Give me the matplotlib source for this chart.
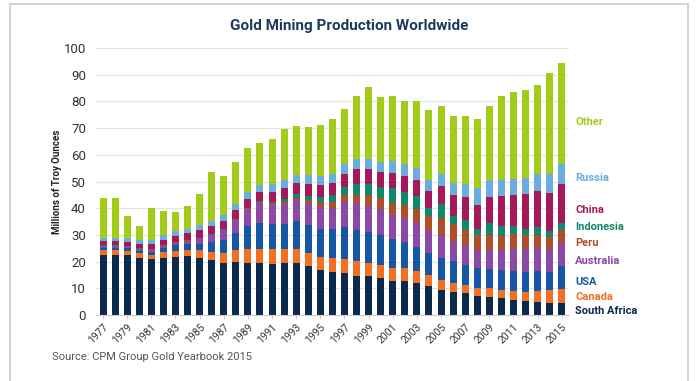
import numpy as np
import matplotlib.pyplot as plt
from matplotlib.patches import Rectangle

plt.rcParams['font.family'] = ['Roboto', 'DejaVu Sans']

# Gold mine output by country, millions of troy ounces
years = list(range(1977, 2016))
south_africa = [22.5, 22.5, 22.5, 21.5, 21.0, 21.5, 21.8, 22.0, 21.5, 20.5,
                19.5, 20.0, 19.5, 19.5, 19.0, 19.5, 19.5, 18.5, 16.8, 16.0,
                15.8, 14.8, 14.5, 13.8, 12.6, 12.6, 12.0, 10.8, 9.5, 8.7,
                8.2, 7.0, 6.8, 6.5, 5.8, 5.3, 5.0, 4.5, 4.5]
canada = [1.7, 1.7, 1.6, 1.6, 1.6, 2.0, 2.3, 2.5, 2.8, 3.3,
          3.8, 4.2, 5.3, 5.4, 5.7, 5.2, 5.3, 4.7, 4.8, 5.3,
          5.3, 5.3, 5.0, 5.0, 5.2, 4.9, 4.5, 4.1, 3.8, 3.3,
          3.0, 3.0, 3.2, 2.9, 3.3, 3.4, 4.0, 4.8, 5.4]
usa = [1.0, 1.0, 1.0, 1.0, 1.2, 1.5, 2.0, 2.1, 2.5, 3.7,
       5.0, 6.5, 8.5, 9.4, 9.4, 9.4, 10.5, 10.6, 10.7, 10.8,
       11.8, 11.7, 11.5, 11.3, 10.8, 9.9, 8.9, 8.4, 8.2, 8.1,
       7.6, 7.5, 7.3, 7.4, 7.5, 7.5, 7.6, 6.9, 8.3]
australia = [0.6, 0.6, 0.6, 0.6, 0.6, 0.9, 1.0, 1.3, 1.9, 2.4,
             3.5, 5.0, 6.5, 7.8, 7.5, 7.5, 7.9, 8.2, 8.1, 8.1,
             9.5, 10.0, 9.8, 9.5, 9.0, 8.8, 9.0, 8.3, 8.4, 7.6,
             7.5, 6.9, 7.0, 7.5, 8.3, 8.4, 8.5, 8.6, 8.8]
peru = [0.2, 0.2, 0.2, 0.2, 0.2, 0.2, 0.2, 0.2, 0.2, 0.2,
        0.2, 0.2, 0.2, 0.3, 0.3, 0.6, 0.8, 1.0, 1.8, 2.1,
        2.5, 3.0, 4.2, 4.3, 4.4, 5.0, 5.5, 5.6, 6.6, 6.5,
        5.5, 5.7, 5.8, 5.3, 5.3, 5.2, 5.0, 4.5, 4.7]
indonesia = [0.1, 0.1, 0.1, 0.1, 0.1, 0.1, 0.1, 0.1, 0.1, 0.1,
             0.1, 0.1, 0.1, 0.3, 0.5, 1.2, 1.4, 1.6, 2.1, 2.6,
             2.9, 4.3, 4.1, 4.0, 5.5, 4.9, 4.6, 3.0, 5.0, 3.0,
             3.8, 2.1, 4.2, 3.9, 3.1, 2.6, 2.7, 2.0, 2.9]
china = [1.5, 1.5, 1.5, 1.7, 1.8, 2.0, 2.3, 2.5, 2.8, 3.2,
         3.2, 3.5, 3.5, 3.4, 3.5, 4.0, 4.1, 4.3, 4.4, 4.6,
         5.2, 5.5, 5.5, 5.5, 5.6, 6.0, 6.2, 6.2, 7.0, 7.6,
         8.8, 9.2, 10.0, 11.0, 11.8, 12.9, 13.6, 14.5, 14.6]
russia = [1.4, 1.4, 1.5, 1.5, 1.6, 1.6, 1.6, 1.7, 1.8, 2.0,
          2.0, 2.2, 2.5, 2.6, 3.0, 3.2, 3.0, 3.5, 3.3, 3.3,
          3.7, 4.0, 4.0, 3.9, 4.5, 4.5, 4.4, 4.0, 4.3, 4.5,
          4.5, 6.0, 6.2, 6.0, 5.9, 6.1, 6.5, 7.0, 7.5]
other = [15.0, 14.8, 8.0, 5.3, 12.1, 9.2, 7.4, 8.3, 11.9, 18.1,
         14.7, 15.8, 16.4, 15.8, 17.1, 18.9, 18.2, 17.9, 19.3, 20.7,
         20.3, 23.4, 26.9, 24.2, 24.4, 23.7, 25.2, 26.3, 25.5, 25.4,
         25.8, 25.9, 27.8, 31.5, 32.7, 32.9, 33.1, 37.7, 37.8]

series = [
    ('South Africa', south_africa, '#0c2a4d', 1.5),
    ('Canada', canada, '#f36f21', 6.7),
    ('USA', usa, '#1557a5', 12.4),
    ('Australia', australia, '#8b48a4', 20.2),
    ('Peru', peru, '#ad4f2b', 27.0),
    ('Indonesia', indonesia, '#12876c', 33.0),
    ('China', china, '#a5185a', 39.3),
    ('Russia', russia, '#6badde', 51.3),
    ('Other', other, '#a3cc1a', 72.3),
]

fig = plt.figure(figsize=(6.99, 3.81), dpi=100)
fig.patches.append(Rectangle((10 / 699, -0.1), 678 / 699, 1.09,
                             transform=fig.transFigure, fill=False,
                             edgecolor='#d4d4d4', linewidth=1.5))
ax = fig.add_axes([0.137, 0.173, 0.677, 0.701])

x = np.arange(len(years))
bottom = np.zeros(len(years))
for name, vals, color, label_y in series:
    ax.bar(x, vals, width=0.58, bottom=bottom, color=color, linewidth=0, zorder=2)
    bottom += np.array(vals)
    ax.text(1.013, label_y, name, transform=ax.get_yaxis_transform(),
            color=color, fontsize=8, fontweight='bold', va='center', ha='left')

ax.set_xlim(-0.6, len(years) - 0.4)
ax.set_ylim(0, 100)
ax.set_yticks(range(0, 101, 10))
ax.set_xticks(x[::2])
ax.set_xticklabels([str(y) for y in years[::2]], rotation=45, ha='right',
                   rotation_mode='anchor', fontsize=7.5, color='#333333')
ax.tick_params(axis='y', length=0, labelsize=9.5, labelcolor='#333333', pad=7)
ax.tick_params(axis='x', length=3, color='#d0d0d0', pad=2)
ax.yaxis.grid(True, color='#e3e3e3', linewidth=0.9, zorder=0)
for side in ['top', 'right', 'left']:
    ax.spines[side].set_visible(False)
ax.spines['bottom'].set_color('#d0d0d0')
ax.set_ylabel('Millions of Troy Ounces', fontsize=7, fontweight='bold',
              color='#222222', labelpad=1)

fig.text(0.5, 0.932, 'Gold Mining Production Worldwide', ha='center',
         va='center', fontsize=11, fontweight='bold', color='#1d3a5a')
fig.text(0.075, 0.063, 'Source: CPM Group Gold Yearbook 2015', ha='left',
         va='center', fontsize=8, color='#555555')

fig.savefig('out.png', dpi=100)
